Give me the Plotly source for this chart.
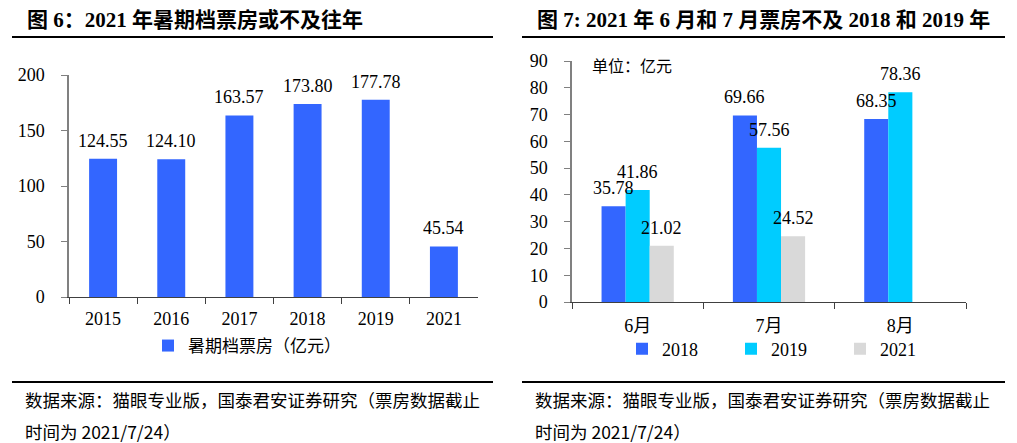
import plotly.graph_objects as go

# ---------------- data ----------------
years = ["2015", "2016", "2017", "2018", "2019", "2021"]
summer_box = [124.55, 124.10, 163.57, 173.80, 177.78, 45.54]

months = ["6月", "7月", "8月"]
series_names = ["2018", "2019", "2021"]
box_2018 = [35.78, 69.66, 68.35]
box_2019 = [41.86, 57.56, 78.36]
box_2021 = [21.02, 24.52, None]

left_title = "图 6：2021 年暑期档票房或不及往年"
right_title = "图 7: 2021 年 6 月和 7 月票房不及 2018 和 2019 年"
source_l1 = "数据来源：猫眼专业版，国泰君安证券研究（票房数据截止"
source_l2 = "时间为 2021/7/24）"
unit_text = "单位：亿元"
left_legend = "暑期档票房（亿元）"

# ---------------- style ----------------
W, H = 1017, 443
FONT = "Liberation Serif, Times New Roman, Noto Sans CJK SC"
CJK = "Noto Sans CJK SC, Liberation Serif"
BLUE = "#3366FF"
CYAN = "#00CCFF"
GRAY = "#D9D9D9"
colors = [BLUE, CYAN, GRAY]
BARGAP = 0.45
LEFT_W = 0.41

def px_x(x):
    return x / W

def px_y(y):
    return 1 - y / H

fig = go.Figure()

# left chart
fig.add_trace(go.Bar(
    x=years, y=summer_box, name=left_legend, marker_color=BLUE,
    width=LEFT_W, xaxis="x", yaxis="y", legend="legend",
    marker_line_width=0,
))

# right chart
right_series = [box_2018, box_2019, box_2021]
for name, vals, col in zip(series_names, right_series, colors):
    fig.add_trace(go.Bar(
        x=months, y=vals, name=name, marker_color=col,
        xaxis="x2", yaxis="y2", legend="legend2",
        marker_line_width=0,
    ))

annotations = []
label_font = dict(family=FONT, size=18, color="#000000")
for j, v in enumerate(summer_box):
    annotations.append(dict(x=j, y=v, xref="x", yref="y", text=f"{v:.2f}",
                            showarrow=False, yshift=18, yanchor="middle",
                            font=label_font))

n = len(right_series)
bw = (1 - BARGAP) / n
for i, vals in enumerate(right_series):
    off = (i - (n - 1) / 2) * bw
    for j, v in enumerate(vals):
        if v is None:
            continue
        annotations.append(dict(x=j + off, y=v, xref="x2", yref="y2", text=f"{v:.2f}",
                                showarrow=False, yshift=18, yanchor="middle",
                                font=label_font))

# titles
annotations.append(dict(x=px_x(25), y=px_y(20), xref="paper", yref="paper",
                        text=f"<b>{left_title}</b>", showarrow=False,
                        xanchor="left", yanchor="middle",
                        font=dict(family=FONT, size=21, color="#000000")))
annotations.append(dict(x=px_x(535), y=px_y(20), xref="paper", yref="paper",
                        text=f"<b>{right_title}</b>", showarrow=False,
                        xanchor="left", yanchor="middle",
                        font=dict(family=FONT, size=21, color="#000000")))
# unit
annotations.append(dict(x=px_x(590), y=px_y(65), xref="paper", yref="paper",
                        text=unit_text, showarrow=False, xanchor="left", yanchor="middle",
                        font=dict(family=CJK, size=16, color="#000000")))
# sources
for x0 in (23, 533):
    annotations.append(dict(x=px_x(x0), y=px_y(399), xref="paper", yref="paper",
                            text=source_l1, showarrow=False, xanchor="left", yanchor="middle",
                            font=dict(family=CJK, size=17.5, color="#000000")))
    annotations.append(dict(x=px_x(x0), y=px_y(431), xref="paper", yref="paper",
                            text=source_l2, showarrow=False, xanchor="left", yanchor="middle",
                            font=dict(family=CJK, size=17.5, color="#000000")))

shapes = []
for (x0, x1) in ((12, 493), (522, 1005)):
    for yy in (37, 382):
        shapes.append(dict(type="line", xref="paper", yref="paper",
                           x0=px_x(x0), x1=px_x(x1), y0=px_y(yy), y1=px_y(yy),
                           line=dict(color="#000000", width=2)))

tickfont = dict(family=FONT, size=18, color="#000000")
common_x = dict(type="category", showline=True, linecolor="#404040", linewidth=1,
                ticks="outside", tickson="boundaries", ticklen=6, tickcolor="#404040",
                tickfont=tickfont, showgrid=False, zeroline=False, automargin=False)
common_y = dict(showline=True, linecolor="#808080", linewidth=1.5,
                ticks="outside", ticklen=6, tickcolor="#808080",
                tickfont=tickfont, ticklabelstandoff=13, showgrid=False, zeroline=False,
                automargin=False)

fig.update_layout(
    template="none",
    width=W, height=H, autosize=False,
    margin=dict(l=0, r=0, t=0, b=0, pad=0),
    paper_bgcolor="white", plot_bgcolor="white",
    barmode="group", bargap=BARGAP, bargroupgap=0,
    annotations=annotations, shapes=shapes,
    xaxis=dict(common_x, domain=[px_x(69), px_x(478)], range=[-0.5, 5.5], anchor="y",
               ticklabelstandoff=5),
    yaxis=dict(common_y, domain=[px_y(297), px_y(75)], range=[0, 200], dtick=50, anchor="x"),
    xaxis2=dict(common_x, domain=[px_x(572), px_x(966)], range=[-0.5, 2.5], anchor="y2",
                ticklabelstandoff=7),
    yaxis2=dict(common_y, domain=[px_y(302), px_y(61)], range=[0, 90], dtick=10, anchor="x2"),
    legend=dict(orientation="h", x=px_x(148), y=px_y(346), xanchor="left", yanchor="middle",
                font=dict(family=CJK, size=17, color="#000000"),
                bgcolor="rgba(0,0,0,0)", itemclick=False, itemdoubleclick=False),
    legend2=dict(orientation="h", x=px_x(622), y=px_y(349), xanchor="left", yanchor="middle",
                 entrywidth=64, entrywidthmode="pixels",
                 font=dict(family=FONT, size=18, color="#000000"),
                 bgcolor="rgba(0,0,0,0)", itemclick=False, itemdoubleclick=False),
    showlegend=True,
)

fig.write_html("out.html", config={"displayModeBar": False},
               post_script="document.body.style.margin='0px';document.body.style.overflow='hidden';")
